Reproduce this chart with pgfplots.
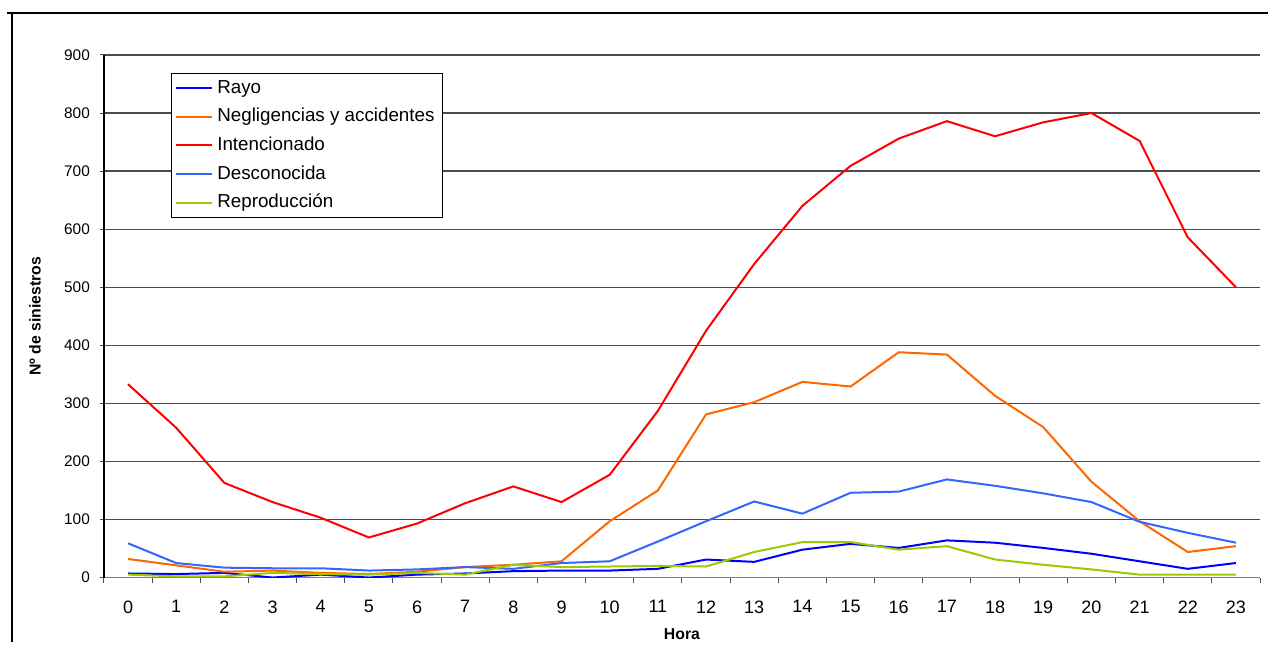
\documentclass[border=0pt]{standalone}
\usepackage{fontspec}
\setmainfont{Liberation Sans}
\usepackage{pgfplots}
\usepackage{pgfplotstable}
\pgfplotsset{compat=1.18}
\definecolor{cRayo}{RGB}{0,0,255}
\definecolor{cNeg}{RGB}{255,102,0}
\definecolor{cInt}{RGB}{255,0,0}
\definecolor{cDes}{RGB}{51,102,255}
\definecolor{cRep}{RGB}{153,204,0}
\pgfplotstableread{
h rayo neg int des rep
0 7 32 333 59 5
1 6 21 258 25 2
2 8 10 163 17 2
3 0 12 130 16 8
4 5 8 103 16 6
5 0 6 69 12 5
6 5 10 93 14 8
7 7 18 128 18 5
8 11 22 157 15 22
9 12 28 130 25 18
10 12 97 177 28 19
11 15 150 287 62 20
12 31 281 425 97 19
13 27 302 540 131 44
14 48 337 640 110 61
15 58 329 709 146 61
16 51 388 756 148 48
17 64 384 786 169 54
18 60 313 760 158 31
19 51 259 784 145 22
20 41 165 800 130 14
21 28 97 752 96 5
22 15 44 586 77 5
23 25 54 500 60 5
}\datatable
\begin{document}
\begin{tikzpicture}
\begin{axis}[
  scale only axis, width=578.5pt, height=261.5pt,
  xmin=-0.5, xmax=23.5, ymin=0, ymax=900,
  xtick={0,...,23}, minor xtick={-0.5,0.5,...,23.5},
  ytick={0,100,...,900},
  tick align=outside, tick pos=left,
  major tick length=2pt, minor tick length=2.5pt,
  major x tick style={draw=none},
  tick style={black!70, line width=0.5pt},
  axis lines*=left,
  x axis line style={black!50, line width=0.8pt},
  y axis line style={black, line width=0.6pt},
  ymajorgrids, major grid style={black!70, line width=0.6pt},
  /pgf/number format/assume math mode=true,
  xticklabel style={font=\fontsize{9}{10}\selectfont, yshift=-6pt},
  yticklabel style={font=\fontsize{7.7}{9}\selectfont, xshift=-1.5pt},
  xlabel={Hora}, ylabel={Nº de siniestros},
  xlabel style={font=\bfseries\fontsize{7.9}{9}\selectfont, at={(axis description cs:0.5,-0.109)}, anchor=center},
  ylabel style={font=\bfseries\fontsize{7.9}{9}\selectfont, at={(axis description cs:-0.0596,0.5)}, anchor=center},
  legend cell align=left,
  legend style={at={(0.0579,0.9656)}, anchor=north west, draw=black, line width=0.5pt,
    font=\fontsize{9.4}{10}\selectfont, row sep=2pt, inner xsep=2pt, inner ysep=1.5pt},
  legend image code/.code={\draw[#1, line width=1pt] (0pt,0pt) -- (18pt,0pt);},
  every axis plot/.append style={line width=1pt},
]
\addplot[cRayo] table[x=h, y=rayo] {\datatable};
\addplot[cNeg] table[x=h, y=neg] {\datatable};
\addplot[cInt] table[x=h, y=int] {\datatable};
\addplot[cDes] table[x=h, y=des] {\datatable};
\addplot[cRep] table[x=h, y=rep] {\datatable};
\legend{Rayo, Negligencias y accidentes, Intencionado, Desconocida, Reproducción}
\end{axis}
\draw[line width=1pt] (-48.5pt,282.5pt) -- (582.5pt,282.5pt);
\draw[line width=1pt] (-46pt,282.5pt) -- (-46pt,-32.5pt);
\path[use as bounding box] (-52pt,-32.5pt) rectangle (582.5pt,289pt);
\end{tikzpicture}
\end{document}
